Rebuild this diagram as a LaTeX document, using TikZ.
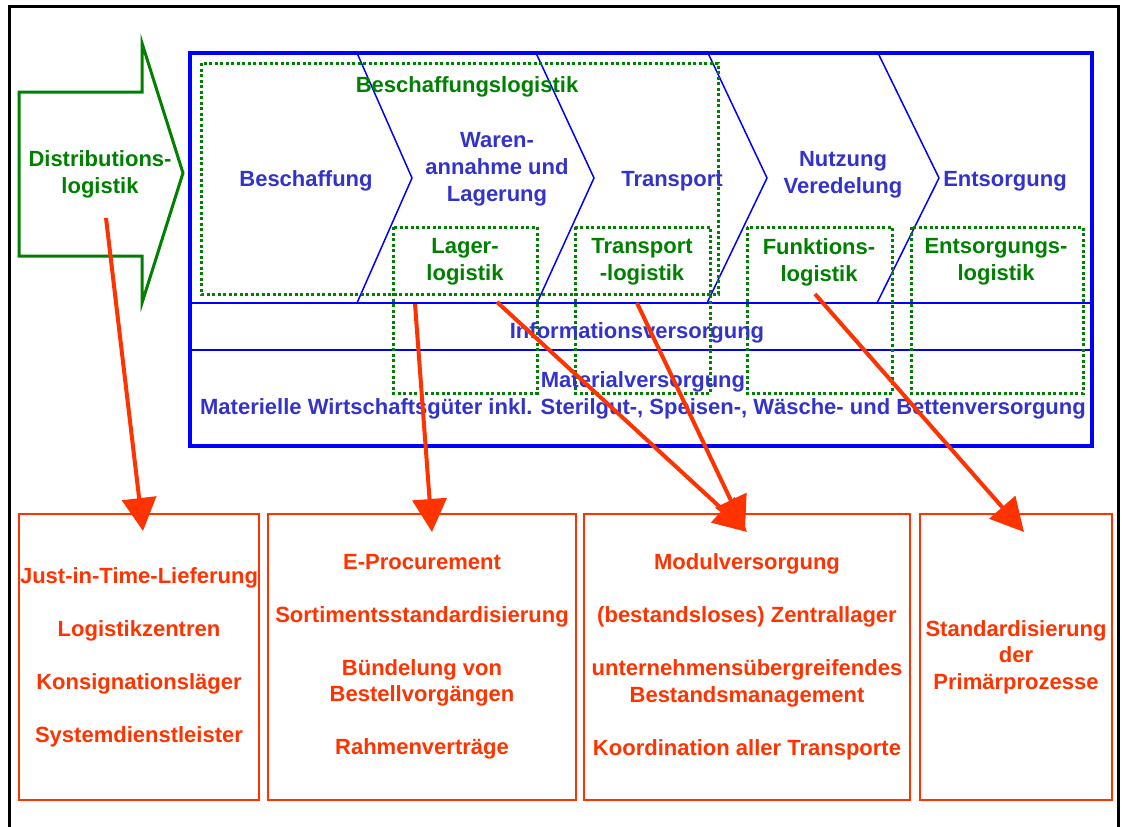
\documentclass[tikz,border=0pt]{standalone}
\usepackage{fontspec}
\setmainfont{Liberation Sans}
\usepackage{tikz}
\usetikzlibrary{positioning}
\usetikzlibrary{arrows.meta}

\definecolor{kgreen}{RGB}{0,128,0}
\definecolor{kblue}{RGB}{0,0,255}
\definecolor{ktext}{RGB}{51,51,204}
\definecolor{kred}{RGB}{255,51,0}

\begin{document}
\begin{tikzpicture}[x=1pt, y=-1pt,
				every node/.style={font=\bfseries\fontsize{22}{27}\selectfont, align=center, inner sep=0pt, outer sep=0pt},
				stage/.style={text=ktext},
				logistik/.style={text=kgreen},
				dotbox/.style={draw=kgreen, line width=3pt, dash pattern=on 3pt off 2.5pt},
				measure/.style={draw=kred, line width=2pt, text=kred, minimum height=286pt, font=\bfseries\fontsize{22}{26.5}\selectfont},
				chevron/.style={draw=kblue, line width=1.5pt},
				link/.style={draw=kred, line width=4pt, -{Triangle[length=33pt, width=34pt]}}]
				\useasboundingbox (0,0) rectangle (1122,827);
				\draw[line width=3pt] (9,827) -- (9,6) -- (1118,6) -- (1118,827);
				
				\node[draw=kblue, line width=4pt, minimum width=902pt, minimum height=393pt, anchor=north west](frame) at (190,53) {};
				\draw[kblue, line width=2.5pt] (190,303) -- (1092,303);
				\draw[kblue, line width=2.5pt] (190,350) -- (1092,350);
				\foreach \a/\b/\c in {357/412/357, 536/594/537, 708/767/707, 878/939/877}
					\draw[chevron] (\a,53) -- (\b,178) -- (\c,303);
				
				\draw[kgreen, line width=3pt] (19,92) -- (142,92) -- (142,43) -- (183,173) -- (142,303) -- (142,256) -- (19,256) -- cycle;
				\node[logistik](distrib) at (100,174) {Distributions-\\logistik};
				
				\draw[dotbox] (201,63) rectangle (718,294);
				\draw[dotbox] (393,227) rectangle (537,393);
				\draw[dotbox] (575,227) rectangle (710,393);
				\draw[dotbox] (747,227) rectangle (892,393);
				\draw[dotbox] (911,227) rectangle (1083,393);
				
				\node[logistik](beschlog) at (467,87) {Beschaffungslogistik};
				\node[stage](besch) at (306,181) {Beschaffung};
				\node[stage](waren) at (497,169) {Waren-\\annahme und\\Lagerung};
				\node[stage](transp) at (672,181) {Transport};
				\node[stage](nutzung) at (843,175) {Nutzung\\Veredelung};
				\node[stage](entsorg) at (1005,181) {Entsorgung};
				
				\node[logistik](lagerlog) at (465,262) {Lager-\\logistik};
				\node[logistik](transplog) at (642,262) {Transport\\-logistik};
				\node[logistik](funklog) at (819,262) {Funktions-\\logistik};
				\node[logistik](entslog) at (996,262) {Entsorgungs-\\logistik};
				
				\node[stage](info) at (637,333) {Informationsversorgung};
				\node[stage](material) at (643,395) {Materialversorgung\\Materielle Wirtschaftsgüter inkl. Sterilgut-, Speisen-, Wäsche- und Bettenversorgung};
				
				\node[measure, minimum width=240pt, anchor=north west](box1) at (19,514) {Just-in-Time-Lieferung\\[26.5pt]Logistikzentren\\[26.5pt]Konsignationsläger\\[26.5pt]Systemdienstleister};
				\node[measure, minimum width=308pt, right=9pt of box1](box2) {E-Procurement\\[26.5pt]Sortimentsstandardisierung\\[26.5pt]Bündelung von\\Bestellvorgängen\\[26.5pt]Rahmenverträge};
				\node[measure, minimum width=326pt, right=8pt of box2](box3) {Modulversorgung\\[26.5pt](bestandsloses) Zentrallager\\[26.5pt]unternehmensübergreifendes\\Bestandsmanagement\\[26.5pt]Koordination aller Transporte};
				\node[measure, minimum width=192pt, right=10pt of box3](box4) {Standardisierung\\der\\Primärprozesse};
				
				\coordinate (s1) at (106,218);
				\coordinate (s2) at (415,304);
				\coordinate (s3) at (497,302);
				\coordinate (s4) at (637,303);
				\coordinate (s5) at (815,294);
				\coordinate (t1) at (143,531);
				\coordinate (t2) at (432,532);
				\coordinate (t3) at (747,532);
				\coordinate (t4) at (745,530);
				\coordinate (t5) at (1024,532);
				
				\draw [link] (s1) -- (t1);
				\draw [link] (s2) -- (t2);
				\draw [link] (s3) -- (t3);
				\draw [link] (s4) -- (t4);
				\draw [link] (s5) -- (t5);
			\end{tikzpicture}
\end{document}
